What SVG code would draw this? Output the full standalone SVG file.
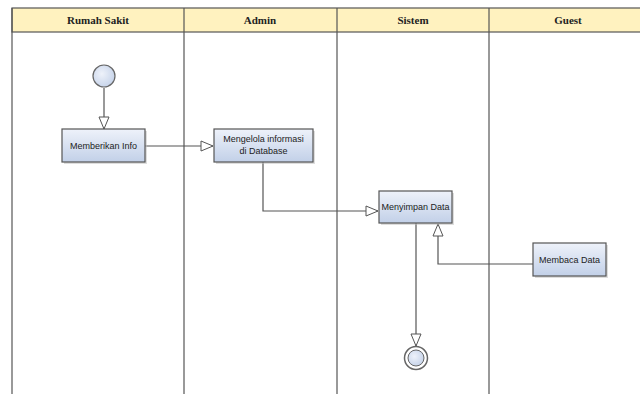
<svg xmlns="http://www.w3.org/2000/svg" width="640" height="394" viewBox="0 0 640 394">
<defs>
<linearGradient id="g" x1="0" y1="0" x2="0" y2="1">
<stop offset="0" stop-color="#eef2fa"/>
<stop offset="1" stop-color="#c2d0e8"/>
</linearGradient>
<radialGradient id="rg" cx="0.4" cy="0.4" r="0.7">
<stop offset="0" stop-color="#eef2fa"/>
<stop offset="1" stop-color="#c2d0e8"/>
</radialGradient>
<marker id="arr" markerWidth="14" markerHeight="12" refX="13" refY="6" orient="auto" markerUnits="userSpaceOnUse">
<path d="M1,1 L13,6 L1,11 Z" fill="#fff" stroke="#555" stroke-width="1"/>
</marker>
</defs>
<style>
.lane{stroke:#555;stroke-width:1.2;fill:none}
.hdr{fill:#fff2bf;stroke:#555;stroke-width:1.2}
.ht{font-family:"Liberation Serif",serif;font-weight:bold;font-size:11px;fill:#222;text-anchor:middle}
.box{fill:url(#g);stroke:#555;stroke-width:1.2}
.sh{fill:#bbb;opacity:0.5}
.t{font-family:"Liberation Sans",Arial,sans-serif;font-size:9px;fill:#222;text-anchor:middle}
.c{stroke:#555;stroke-width:1.2;fill:none;marker-end:url(#arr)}
</style>
<rect width="640" height="394" fill="#fff"/>
<g id="lanes">
<rect class="hdr" x="12" y="8" width="640" height="24"/>
<line class="lane" x1="12" y1="8" x2="12" y2="394"/>
<line class="lane" x1="184" y1="8" x2="184" y2="394"/>
<line class="lane" x1="337" y1="8" x2="337" y2="394"/>
<line class="lane" x1="489" y1="8" x2="489" y2="394"/>
<text class="ht" x="98" y="24">Rumah Sakit</text>
<text class="ht" x="260" y="24">Admin</text>
<text class="ht" x="413" y="24">Sistem</text>
<text class="ht" x="568" y="24">Guest</text>
</g>
<g id="connectors">
<path class="c" d="M104,88 L104,129"/>
<path class="c" d="M145,146 L213,146"/>
<path class="c" d="M263,162 L263,211 L378,211"/>
<path class="c" d="M533,264 L438,264 L438,224"/>
<path class="c" d="M416,223 L416,346"/>
</g>
<g id="start">
<circle cx="104" cy="76" r="11" fill="url(#rg)" stroke="#666" stroke-width="1.2"/>
</g>
<g id="memberikan">
<rect class="sh" x="64" y="131" width="83" height="33"/>
<rect class="box" x="62" y="129" width="83" height="33"/>
<text class="t" x="103.5" y="149">Memberikan Info</text>
</g>
<g id="mengelola">
<rect class="sh" x="216" y="131" width="99" height="33"/>
<rect class="box" x="214" y="129" width="99" height="33"/>
<text class="t" x="263.5" y="142">Mengelola informasi</text>
<text class="t" x="263.5" y="154">di Database</text>
</g>
<g id="menyimpan">
<rect class="sh" x="381" y="193" width="73" height="32"/>
<rect class="box" x="379" y="191" width="73" height="32"/>
<text class="t" x="415.5" y="210">Menyimpan Data</text>
</g>
<g id="membaca">
<rect class="sh" x="535" y="245" width="73" height="33"/>
<rect class="box" x="533" y="243" width="73" height="33"/>
<text class="t" x="569.5" y="263">Membaca Data</text>
</g>
<g id="end">
<circle cx="416" cy="358" r="11.5" fill="#fff" stroke="#666" stroke-width="1.5"/>
<circle cx="416" cy="358" r="8" fill="url(#rg)" stroke="#666" stroke-width="1"/>
</g>
</svg>
